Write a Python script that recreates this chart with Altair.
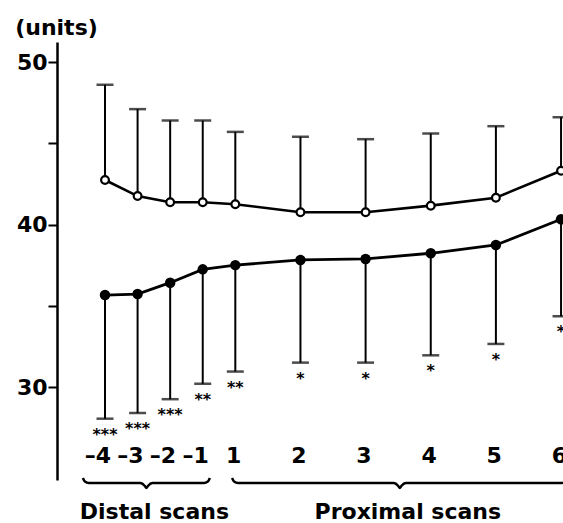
import altair as alt
import pandas as pd

# ---- data ----
scan_labels = ["–4", "–3", "–2", "–1", "1", "2", "3", "4", "5", "6"]
# horizontal slot of each scan (distal scans are drawn at half spacing)
scan_slot = [0, 1, 2, 3, 4, 6, 8, 10, 12, 14]
upper_mean = [42.74, 41.75, 41.37, 41.37, 41.25, 40.75, 40.75, 41.16, 41.65, 43.31]
upper_sd_top = [48.6, 47.1, 46.4, 46.4, 45.7, 45.4, 45.25, 45.6, 46.05, 46.6]
lower_mean = [35.66, 35.72, 36.42, 37.24, 37.5, 37.82, 37.88, 38.23, 38.74, 40.32]
lower_sd_bottom = [28.05, 28.4, 29.25, 30.2, 30.95, 31.5, 31.5, 31.95, 32.65, 34.35]
signif = ["***", "***", "***", "**", "**", "*", "*", "*", "*", "*"]
group_names = ["Distal scans", "Proximal scans"]
group_start = [-0.68, 3.9]
group_end = [3.22, 14.2]
y_ticks = [30, 35, 40, 45, 50]

# ---- geometry ----
W, H = 506, 438
PAD_L, PAD_T = 57, 42
X_DOM = [-1.474, 14.06]
Y_DOM = [24.277, 51.231]
px_x = (X_DOM[1] - X_DOM[0]) / W
px_y = (Y_DOM[1] - Y_DOM[0]) / H
FONT = "DejaVu Sans"

df = pd.DataFrame({
    "slot": scan_slot,
    "label": scan_labels,
    "um": upper_mean,
    "uh": upper_sd_top,
    "lm": lower_mean,
    "ll": lower_sd_bottom,
    "sig": signif,
})

# brace polylines
brace_rows = []
base_y = Y_DOM[0] - 3 * px_y
for g, a, b in zip(group_names, group_start, group_end):
    m = (a + b) / 2
    pts = [(a, 5), (a + 2 * px_x, 1.5), (a + 6 * px_x, 0), (m - 6 * px_x, 0),
           (m - 1.5 * px_x, -3), (m, -5), (m + 1.5 * px_x, -3), (m + 6 * px_x, 0),
           (b - 6 * px_x, 0), (b - 2 * px_x, 1.5), (b, 5)]
    for i, (x, dy) in enumerate(pts):
        brace_rows.append({"group": g, "i": i, "x": x, "y": base_y + dy * px_y})
brace_df = pd.DataFrame(brace_rows)
glabel_df = pd.DataFrame({"group": group_names,
                          "x": [(a + b) / 2 for a, b in zip(group_start, group_end)]})

xs = alt.Scale(domain=X_DOM, nice=False, zero=False)
ys = alt.Scale(domain=Y_DOM, nice=False, zero=False)
X = alt.X("slot:Q", scale=xs, axis=None)

yaxis = alt.Axis(values=y_ticks, grid=False, domainWidth=2.5, domainColor="black",
                 tickColor="black", tickWidth=2, tickSize=9, labelPadding=1,
                 labelExpr="datum.value % 10 == 0 ? datum.label : ''",
                 labelFont=FONT, labelFontSize=22, labelFontWeight="bold", labelColor="black",
                 title="(units)", titleAngle=0, titleX=-1, titleY=-15, titleAlign="center",
                 titleBaseline="middle", titleFont=FONT, titleFontSize=22,
                 titleFontWeight="bold", titleColor="black")

base = alt.Chart(df)

up_rule = base.mark_rule(color="black", strokeWidth=2).encode(
    x=X, y=alt.Y("um:Q", scale=ys, axis=yaxis), y2="uh:Q")
up_cap = base.mark_tick(color="black", orient="horizontal", size=17, thickness=2.5).encode(
    x=X, y=alt.Y("uh:Q", scale=ys))
lo_rule = base.mark_rule(color="black", strokeWidth=2).encode(
    x=X, y=alt.Y("lm:Q", scale=ys), y2="ll:Q")
lo_cap = base.mark_tick(color="black", orient="horizontal", size=17, thickness=2.5).encode(
    x=X, y=alt.Y("ll:Q", scale=ys))
up_line = base.mark_line(color="black", strokeWidth=2.6).encode(
    x=X, y=alt.Y("um:Q", scale=ys))
lo_line = base.mark_line(color="black", strokeWidth=2.8).encode(
    x=X, y=alt.Y("lm:Q", scale=ys))
up_pts = base.mark_point(shape="circle", filled=True, fill="white", stroke="black",
                         strokeWidth=2.2, size=60, opacity=1).encode(
    x=X, y=alt.Y("um:Q", scale=ys))
lo_pts = base.mark_circle(color="black", size=110, opacity=1).encode(
    x=X, y=alt.Y("lm:Q", scale=ys))
stars = base.mark_text(baseline="alphabetic", dy=21, fontSize=16, fontWeight="bold",
                       font=FONT, color="black").encode(
    x=X, y=alt.Y("ll:Q", scale=ys), text="sig:N")
xlabels = base.mark_text(align="right", baseline="middle", dx=6, font=FONT, fontSize=22,
                         fontWeight="bold", color="black").encode(
    x=X, y=alt.value(414), text="label:N")

braces = alt.Chart(brace_df).mark_line(color="black", strokeWidth=2.5,
                                       interpolate="monotone").encode(
    x=alt.X("x:Q", scale=xs), y=alt.Y("y:Q", scale=ys), detail="group:N", order="i:Q")
glabels = alt.Chart(glabel_df).mark_text(baseline="middle", dx=8, font=FONT, fontSize=22,
                                         fontWeight="bold", color="black").encode(
    x=alt.X("x:Q", scale=xs), y=alt.value(470), text="group:N")

chart = alt.layer(up_rule, up_cap, lo_rule, lo_cap, up_line, lo_line, up_pts, lo_pts,
                  stars, xlabels, braces, glabels).properties(
    width=W, height=H,
    autosize=alt.AutoSizeParams(type="none"),
    padding={"left": PAD_L, "top": PAD_T, "right": 0, "bottom": 523 - PAD_T - H},
    background="white",
).configure_view(stroke=None)

chart.save("out.html", embed_options={"renderer": "svg", "actions": False})
